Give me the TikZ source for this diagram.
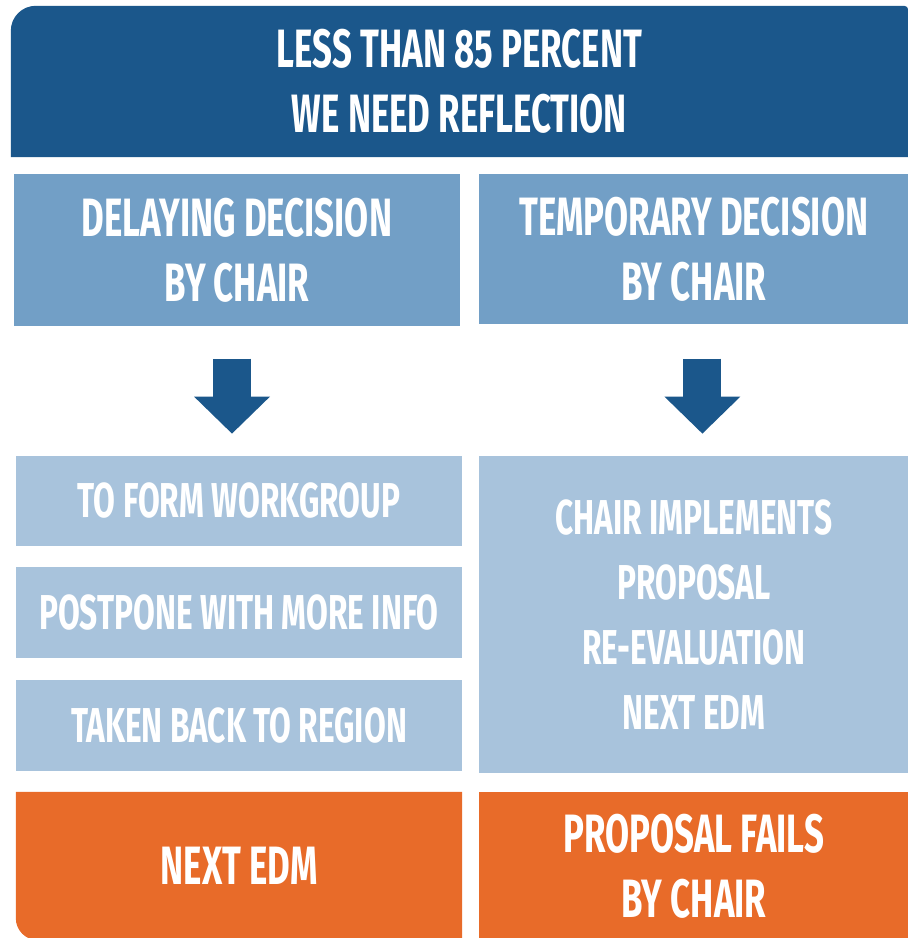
\documentclass[tikz,border=0pt]{standalone}
\usepackage{fontspec}
\setmainfont{Fira Sans}[FakeStretch=0.645]
\usepackage{tikz}
\usetikzlibrary{arrows.meta, positioning, backgrounds}
\definecolor{dkblue}{HTML}{1B578B}
\definecolor{midblue}{HTML}{729FC6}
\definecolor{ltblue}{HTML}{A8C3DC}
\definecolor{orng}{HTML}{E86B29}
\tikzset{
  bigtext/.style={font=\fontsize{54}{65}\selectfont\bfseries, text=white, align=center, inner sep=0pt},
  smalltext/.style={font=\fontsize{49}{65}\selectfont\bfseries, text=white, align=center, inner sep=0pt},
  headbox/.style={rectangle, bigtext, minimum width=897pt, minimum height=151pt},
  midbox/.style={rectangle, bigtext, fill=midblue, minimum height=152pt},
  lightbox/.style={rectangle, smalltext, fill=ltblue, minimum width=446pt, minimum height=90pt},
  orangebox/.style={rectangle, bigtext, minimum height=148pt},
  blockarrow/.style={draw=dkblue, line width=38pt, -{Triangle[width=76pt,length=37pt,line width=0pt]}}
}
\begin{document}
\begin{tikzpicture}
    \useasboundingbox (0,0) rectangle (908pt,938pt);
    \node (head) [headbox] at (459.5pt,856.5pt) {LESS THAN 85 PERCENT\\WE NEED REFLECTION};
    \node (dl) [midbox, minimum width=446pt, below right=17pt and 3pt of head.south west] {DELAYING DECISION\\BY CHAIR};
    \node (tp) [midbox, minimum width=429pt, minimum height=150pt, below right=0pt and 19pt of dl.north east] {TEMPORARY DECISION\\BY CHAIR};

    % left column
    \node (wg) [lightbox, below right=129pt and 2pt of dl.south west] {TO FORM WORKGROUP};
    \node (pp) [lightbox, minimum height=91pt, below=21pt of wg] {POSTPONE WITH MORE INFO};
    \node (tb) [lightbox, minimum height=91pt, below=21pt of pp] {TAKEN BACK TO REGION};
    \node (ne) [orangebox, minimum width=446pt, below=21pt of tb] {NEXT EDM};

    % right column
    \node (ci) [lightbox, minimum width=429pt, minimum height=317pt, below right=0pt and 17pt of wg.north east] {CHAIR IMPLEMENTS\\PROPOSAL\\RE-EVALUATION\\NEXT EDM};
    \node (pf) [orangebox, fill=orng, minimum width=429pt, below right=0pt and 17pt of ne.north east] {PROPOSAL FAILS\\BY CHAIR};

    % box fills with odd corners
    \begin{scope}[on background layer]
      \fill[dkblue] (head.south west) -- ([yshift=-25pt]head.north west) arc[start angle=180,end angle=90,radius=25pt]
        -- ([xshift=-4pt]head.north east) arc[start angle=90,end angle=0,radius=4pt] -- (head.south east) -- cycle;
      \fill[orng] (ne.north west) -- ([yshift=22pt]ne.south west) arc[start angle=180,end angle=270,radius=22pt]
        -- (ne.south east) -- (ne.north east) -- cycle;
    \end{scope}

    % arrows
    \draw[blockarrow] ([xshift=-5pt,yshift=-32pt]dl.south) -- ([xshift=-7pt,yshift=22pt]wg.north);
    \draw[blockarrow] ([xshift=8.5pt,yshift=-34pt]tp.south) -- ([xshift=8.5pt,yshift=22pt]ci.north);
\end{tikzpicture}
\end{document}
